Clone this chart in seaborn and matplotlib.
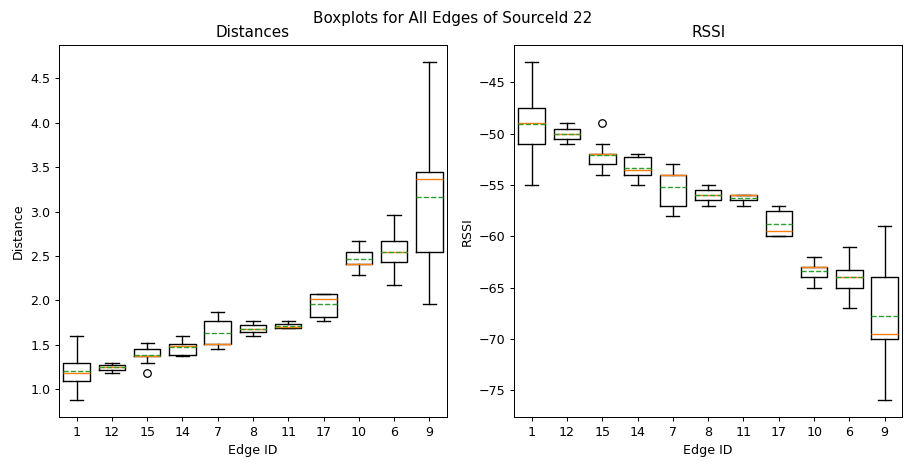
import matplotlib
matplotlib.use("Agg")
import matplotlib.pyplot as plt
import seaborn as sns

edges = ["1", "12", "15", "14", "7", "8", "11", "17", "10", "6", "9"]

# Distances summary stats per edge
dist_whislo = [0.876, 1.184, 1.300, 1.371, 1.454, 1.596, 1.685, 1.765, 2.282, 2.177, 1.964]
dist_q1     = [1.094, 1.217, 1.371, 1.390, 1.514, 1.645, 1.690, 1.817, 2.405, 2.436, 2.547]
dist_med    = [1.187, 1.247, 1.371, 1.491, 1.514, 1.682, 1.697, 2.012, 2.407, 2.547, 3.367]
dist_mean   = [1.206, 1.247, 1.382, 1.480, 1.634, 1.682, 1.709, 1.956, 2.463, 2.547, 3.168]
dist_q3     = [1.300, 1.270, 1.457, 1.514, 1.765, 1.724, 1.735, 2.069, 2.547, 2.671, 3.450]
dist_whishi = [1.600, 1.300, 1.517, 1.600, 1.870, 1.765, 1.765, 2.069, 2.671, 2.964, 4.684]
dist_fliers = [[], [], [1.187], [], [], [], [], [], [], [], []]

# RSSI summary stats per edge
rssi_whislo = [-55.0, -51.0, -54.0, -55.0, -58.0, -57.0, -57.0, -60.0, -65.0, -67.0, -76.0]
rssi_q1     = [-51.0, -50.5, -53.0, -54.0, -57.0, -56.5, -56.5, -60.0, -64.0, -65.0, -70.0]
rssi_med    = [-49.0, -50.0, -52.0, -53.5, -54.0, -56.0, -56.0, -59.5, -63.0, -64.0, -69.5]
rssi_mean   = [-49.05, -50.0, -52.1, -53.3, -55.2, -56.0, -56.26, -58.8, -63.37, -64.0, -67.8]
rssi_q3     = [-47.5, -49.5, -52.0, -52.25, -54.0, -55.5, -56.0, -57.5, -63.0, -63.25, -64.0]
rssi_whishi = [-43.0, -49.0, -51.0, -52.0, -53.0, -55.0, -56.0, -57.0, -62.0, -61.0, -59.0]
rssi_fliers = [[], [], [-49.0], [], [], [], [], [], [], [], []]


def make_stats(lo, q1, med, mean, q3, hi, fl):
    out = []
    for i in range(len(lo)):
        out.append(dict(whislo=lo[i], q1=q1[i], med=med[i], mean=mean[i],
                        q3=q3[i], whishi=hi[i], fliers=fl[i]))
    return out


pal = sns.color_palette("tab10")

DPI = 90.5
fig = plt.figure(figsize=(905 / DPI, 474 / DPI), dpi=DPI)
ax1 = fig.add_axes([0.0652, 0.1196, 0.4287, 0.7855])
ax2 = fig.add_axes([0.5680, 0.1196, 0.4290, 0.7855])

common = dict(
    widths=0.75,
    showmeans=True,
    meanline=True,
    boxprops=dict(color="black", linewidth=1.1),
    whiskerprops=dict(color="black", linewidth=1.1),
    capprops=dict(color="black", linewidth=1.1),
    medianprops=dict(color=pal[1], linewidth=1.1),
    meanprops=dict(color=pal[2], linestyle="--", linewidth=1.1),
    flierprops=dict(marker="o", markerfacecolor="none", markeredgecolor="black", markersize=6),
)

ax1.bxp(make_stats(dist_whislo, dist_q1, dist_med, dist_mean, dist_q3, dist_whishi, dist_fliers), **common)
ax2.bxp(make_stats(rssi_whislo, rssi_q1, rssi_med, rssi_mean, rssi_q3, rssi_whishi, rssi_fliers), **common)

for ax, title, ylab in [(ax1, "Distances", "Distance"), (ax2, "RSSI", "RSSI")]:
    ax.set_xticks(range(1, len(edges) + 1))
    ax.set_xticklabels(edges)
    ax.set_xlim(0.5, len(edges) + 0.5)
    ax.set_title(title, fontsize=12)
    ax.set_xlabel("Edge ID")
    ax.set_ylabel(ylab)

ax1.set_ylim(0.686, 4.874)
ax1.set_yticks([1.0, 1.5, 2.0, 2.5, 3.0, 3.5, 4.0, 4.5])
ax2.set_ylim(-77.65, -41.35)
ax2.set_yticks([-75, -70, -65, -60, -55, -50, -45])

fig.suptitle("Boxplots for All Edges of SourceId 22", fontsize=12, y=0.976)

fig.savefig("out.png", dpi=DPI)
